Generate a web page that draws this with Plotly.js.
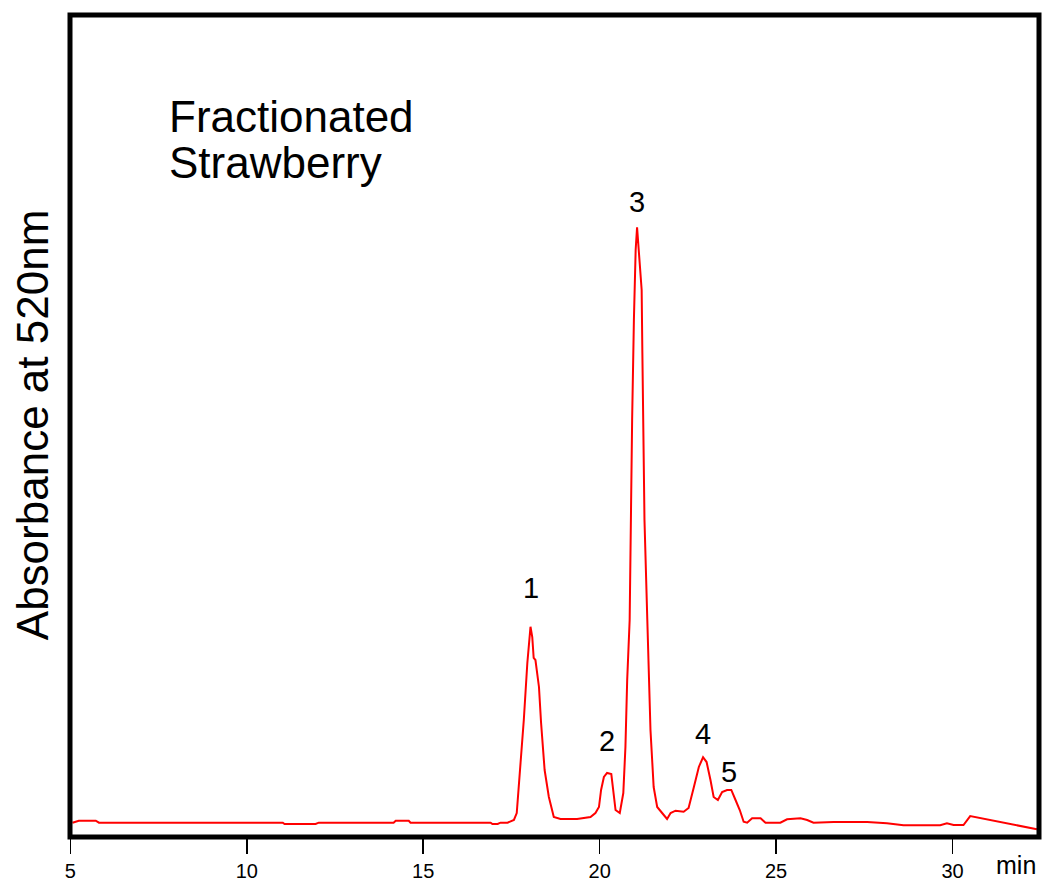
<!DOCTYPE html>
<html>
<head>
<meta charset="utf-8">
<script src="https://cdn.plot.ly/plotly-3.0.1.min.js"></script>
<style>html,body{margin:0;padding:0;background:#fff;}#chart{width:1042px;height:882px;}</style>
</head>
<body>
<div id="chart"></div>
<script>
// Retention time (min)
const timeMin = [5.06,5.24,5.72,5.81,11.02,11.07,11.95,12.04,14.16,14.22,14.59,14.64,16.91,16.96,17.11,17.19,17.39,17.48,17.57,17.65,17.68,17.76,17.85,17.95,18.04,18.09,18.13,18.18,18.28,18.34,18.44,18.56,18.70,18.89,19.36,19.74,19.88,19.98,20.04,20.12,20.21,20.33,20.38,20.45,20.57,20.67,20.73,20.78,20.85,20.88,20.92,20.97,21.02,21.06,21.13,21.19,21.21,21.23,21.27,21.35,21.38,21.44,21.53,21.63,21.77,21.91,22.01,22.15,22.38,22.52,22.67,22.81,22.93,23.03,23.14,23.23,23.35,23.47,23.61,23.73,23.85,23.97,24.08,24.18,24.32,24.56,24.70,25.12,25.31,25.69,25.88,26.06,26.63,27.58,28.14,28.61,29.65,29.84,30.03,30.31,30.50,32.39];
// Absorbance at 520 nm (arbitrary units)
const absorbance = [1.74,1.98,1.98,1.74,1.74,1.58,1.58,1.74,1.74,1.98,1.98,1.74,1.74,1.58,1.58,1.74,1.74,1.95,2.07,2.92,4.50,9.00,14.23,21.17,25.58,24.33,21.78,21.53,18.25,13.87,8.15,4.87,2.43,2.19,2.19,2.43,2.92,3.65,5.72,7.30,7.79,7.66,6.08,3.28,2.92,5.35,10.95,19.10,26.40,40.63,50.73,62.90,71.41,74.17,70.19,66.55,58.88,50.73,38.56,26.40,21.17,13.02,6.08,3.65,2.92,2.19,2.92,3.20,3.08,3.53,6.08,8.52,9.70,9.12,6.93,4.87,4.50,5.47,5.72,5.72,4.50,3.28,1.86,1.74,2.27,2.27,1.74,1.74,2.15,2.27,2.07,1.74,1.82,1.82,1.67,1.42,1.42,1.67,1.46,1.46,2.55,0.94];
// Peak labels and their apex retention times
const peakLabels = ["1","2","3","4","5"];
const peakTimes = [18.04,20.21,21.06,22.93,23.67];
const xTickVals = [5,10,15,20,25,30];
const xTickText = ["5","10","15","20","25","30"];

const FONT = "Arial, 'Liberation Sans', Helvetica, sans-serif";
const labelShift = [39,32,25,23,18];

const annotations = peakLabels.map((lab, i) => {
  let best = 0, bd = 1e9;
  timeMin.forEach((t, j) => { const d = Math.abs(t - peakTimes[i]); if (d < bd) { bd = d; best = j; } });
  let yv = absorbance[best];
  timeMin.forEach((t, j) => { if (Math.abs(t - peakTimes[i]) < 0.08 && absorbance[j] > yv) yv = absorbance[j]; });
  return {x: peakTimes[i], y: yv, xref: 'x', yref: 'y', text: lab, showarrow: false,
          xanchor: 'center', yanchor: 'middle', yshift: labelShift[i],
          font: {family: FONT, size: 29, color: '#000'}};
});
annotations.push(
  {x: 0.1, y: 0.876, xref: 'paper', yref: 'paper', xanchor: 'left', yanchor: 'middle',
   text: 'Fractionated', showarrow: false, font: {family: FONT, size: 44, color: '#000'}},
  {x: 0.1, y: 0.8205, xref: 'paper', yref: 'paper', xanchor: 'left', yanchor: 'middle',
   text: 'Strawberry', showarrow: false, font: {family: FONT, size: 44, color: '#000'}},
  {x: -0.039, y: 0.5012, xref: 'paper', yref: 'paper', xanchor: 'center', yanchor: 'middle',
   text: 'Absorbance at 520nm', textangle: -90, showarrow: false,
   font: {family: FONT, size: 44, color: '#000'}},
  {x: 0.976, y: -0.0535, xref: 'paper', yref: 'paper', xanchor: 'center', yanchor: 'bottom',
   text: 'min', showarrow: false, font: {family: FONT, size: 25, color: '#000'}}
);

const trace = {x: timeMin, y: absorbance, type: 'scatter', mode: 'lines',
  line: {color: '#ff0000', width: 2}, hoverinfo: 'skip'};

const layout = {
  width: 1042, height: 882,
  margin: {l: 70, r: 3, t: 15, b: 45, pad: 0},
  paper_bgcolor: '#fff', plot_bgcolor: '#fff',
  showlegend: false,
  xaxis: {range: [4.99, 32.45], tickmode: 'array', tickvals: xTickVals, ticktext: xTickText,
    ticks: 'outside', ticklen: 16, tickwidth: 1.5, tickcolor: '#000',
    showgrid: false, zeroline: false, showline: false,
    tickfont: {family: FONT, size: 20, color: '#000'}},
  yaxis: {range: [0, 100], showticklabels: false, ticks: '', showgrid: false,
    zeroline: false, showline: false},
  shapes: [{type: 'rect', xref: 'paper', yref: 'paper', x0: 0, x1: 1, y0: 0, y1: 1,
    line: {color: '#000', width: 5}, layer: 'above'}],
  annotations: annotations
};

Plotly.newPlot('chart', [trace], layout, {staticPlot: true, displayModeBar: false});
</script>
</body>
</html>
